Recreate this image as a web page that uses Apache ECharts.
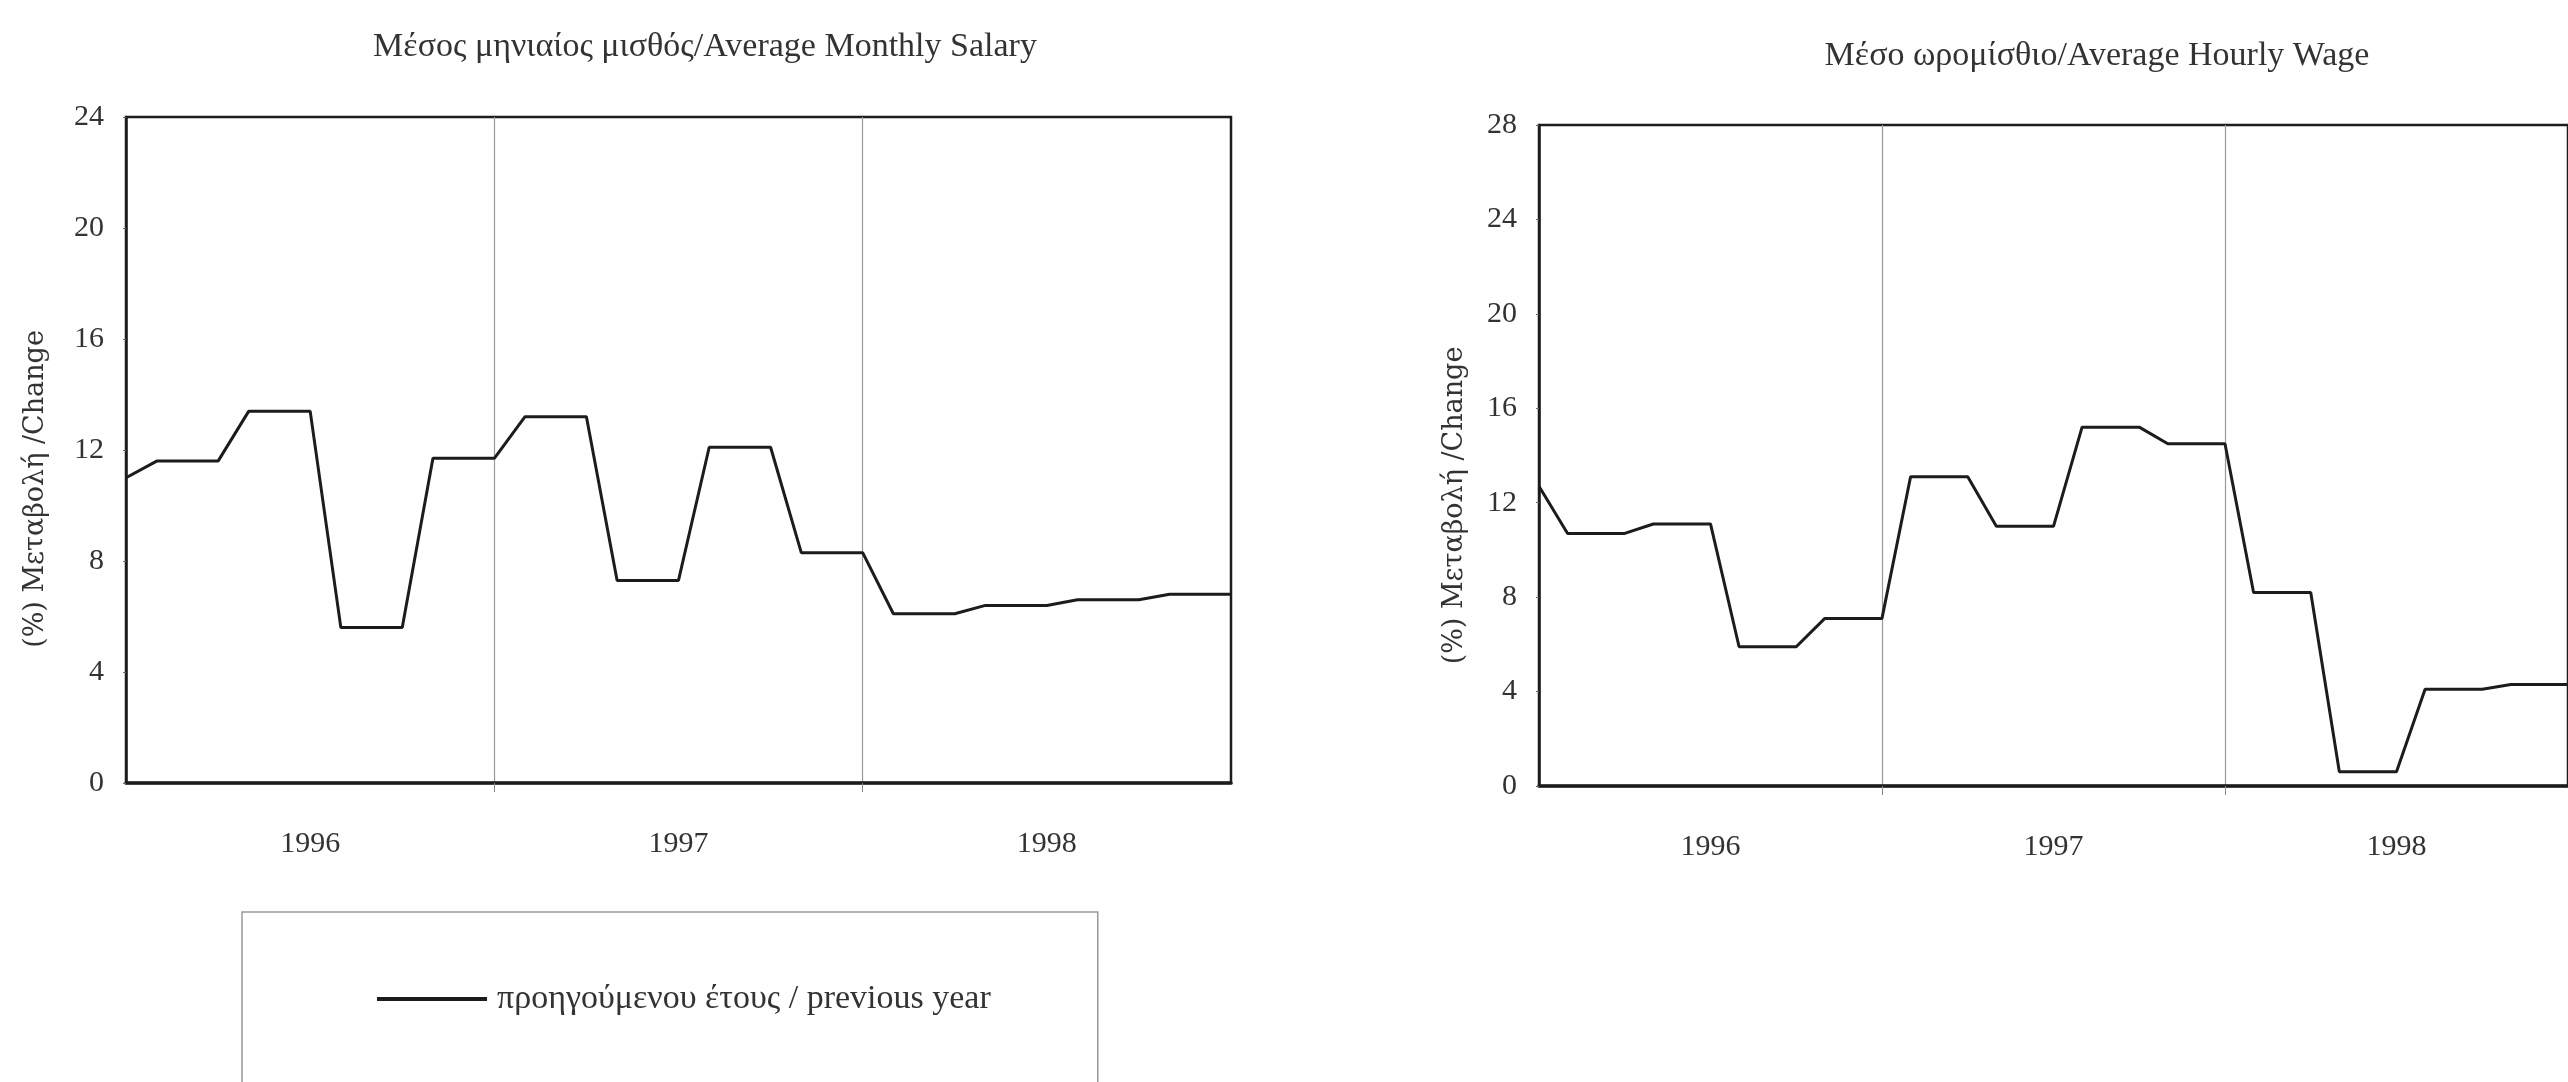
<!DOCTYPE html>
<html style="height: 100%">
   <head>
       <meta charset="utf-8">
   </head>
   <body style="height: 100%; margin: 0; background: #fff">
       <div id="container" style="width: 2568px; height: 1082px"></div>
       <script type="text/javascript" src="https://cdn.jsdelivr.net/npm/echarts@6/dist/echarts.min.js"></script>
       <script type="text/javascript">
// months Dec 1995 .. Dec 1998, values are quarterly and repeat over each quarter
var months = [
    '12/95',
    '1/96','2/96','3/96','4/96','5/96','6/96','7/96','8/96','9/96','10/96','11/96','12/96',
    '1/97','2/97','3/97','4/97','5/97','6/97','7/97','8/97','9/97','10/97','11/97','12/97',
    '1/98','2/98','3/98','4/98','5/98','6/98','7/98','8/98','9/98','10/98','11/98','12/98'
];
// which month index carries the year label / the year separator line
var yearLabels = {6: '1996', 18: '1997', 30: '1998'};
var yearLines = [12, 24];

var monthlySalary = [
    11.0,
    11.6, 11.6, 11.6,  13.4, 13.4, 13.4,  5.6, 5.6, 5.6,  11.7, 11.7, 11.7,
    13.2, 13.2, 13.2,  7.3, 7.3, 7.3,  12.1, 12.1, 12.1,  8.3, 8.3, 8.3,
    6.1, 6.1, 6.1,  6.4, 6.4, 6.4,  6.6, 6.6, 6.6,  6.8, 6.8, 6.8
];
var hourlyWage = [
    12.7,
    10.7, 10.7, 10.7,  11.1, 11.1, 11.1,  5.9, 5.9, 5.9,  7.1, 7.1, 7.1,
    13.1, 13.1, 13.1,  11.0, 11.0, 11.0,  15.2, 15.2, 15.2,  14.5, 14.5, 14.5,
    8.2, 8.2, 8.2,  0.6, 0.6, 0.6,  4.1, 4.1, 4.1,  4.3, 4.3, 4.3
];

var seriesName = 'προηγούμενου έτους / previous year';
var serif = '"Liberation Serif", "DejaVu Serif", serif';
var ink = '#1c1c1c';

function xAxisFor(gridIndex) {
    return {
        type: 'category',
        gridIndex: gridIndex,
        data: months,
        boundaryGap: false,
        axisLine: {lineStyle: {color: ink, width: 3.5}},
        axisTick: {
            show: true,
            length: 9,
            interval: function (i) { return yearLines.indexOf(i) >= 0; },
            lineStyle: {color: '#888', width: 1}
        },
        axisLabel: {
            interval: function (i) { return yearLabels[i] !== undefined; },
            formatter: function (v, i) { return yearLabels[i] || ''; },
            margin: 46,
            fontFamily: serif,
            fontSize: 30,
            color: '#333'
        },
        splitLine: {
            show: true,
            interval: function (i) { return yearLines.indexOf(i) >= 0; },
            lineStyle: {color: '#999', width: 1.2}
        }
    };
}

// shift moves the rotated name down along the axis
function yAxisFor(gridIndex, max, gap, shift) {
    return {
        type: 'value',
        gridIndex: gridIndex,
        min: 0,
        max: max,
        interval: 4,
        name: '(%) Μεταβολή /Change',
        nameLocation: 'middle',
        nameGap: gap,
        nameTextStyle: {
            fontFamily: '"DejaVu Serif", serif',
            fontSize: 27,
            color: '#333',
            padding: [0, shift, 0, 0]
        },
        axisLine: {show: true, lineStyle: {color: ink, width: 2.5}},
        axisTick: {show: true, length: 3, lineStyle: {color: '#666'}},
        axisLabel: {margin: 22, fontFamily: serif, fontSize: 30, color: '#333'},
        splitLine: {show: false}
    };
}

var dom = document.getElementById('container');
var myChart = echarts.init(dom);

var option = {
    backgroundColor: '#ffffff',
    animation: false,
    title: [
        {
            text: 'Μέσος μηνιαίος μισθός/Average Monthly Salary',
            left: 700, top: 25, textAlign: 'center',
            textStyle: {fontFamily: serif, fontWeight: 'normal', fontSize: 34, color: '#333'}
        },
        {
            text: 'Μέσο ωρομίσθιο/Average Hourly Wage',
            left: 2092, top: 34, textAlign: 'center',
            textStyle: {fontFamily: serif, fontWeight: 'normal', fontSize: 34, color: '#333'}
        }
    ],
    legend: {
        data: [seriesName],
        left: 242,
        top: 912,
        orient: 'horizontal',
        padding: [70, 107, 120, 135],
        borderColor: '#999',
        borderWidth: 1.5,
        icon: 'rect',
        itemWidth: 110,
        itemHeight: 4,
        itemStyle: {color: ink},
        textStyle: {fontFamily: serif, fontSize: 34, color: '#333', padding: [0, 0, 0, 5]}
    },
    grid: [
        {left: 126, right: 1337, top: 117, bottom: 299, show: true, borderColor: ink, borderWidth: 2.5},
        {left: 1539, right: -22, top: 125, bottom: 296, show: true, borderColor: ink, borderWidth: 2.5}
    ],
    xAxis: [xAxisFor(0), xAxisFor(1)],
    yAxis: [yAxisFor(0, 24, 77, 78), yAxisFor(1, 28, 71, 100)],
    series: [
        {
            name: seriesName,
            type: 'line',
            xAxisIndex: 0,
            yAxisIndex: 0,
            data: monthlySalary,
            symbol: 'none',
            lineStyle: {color: ink, width: 3}
        },
        {
            name: 'wage',
            type: 'line',
            xAxisIndex: 1,
            yAxisIndex: 1,
            data: hourlyWage,
            symbol: 'none',
            lineStyle: {color: ink, width: 3}
        }
    ]
};

myChart.setOption(option);
       </script>
   </body>
</html>
